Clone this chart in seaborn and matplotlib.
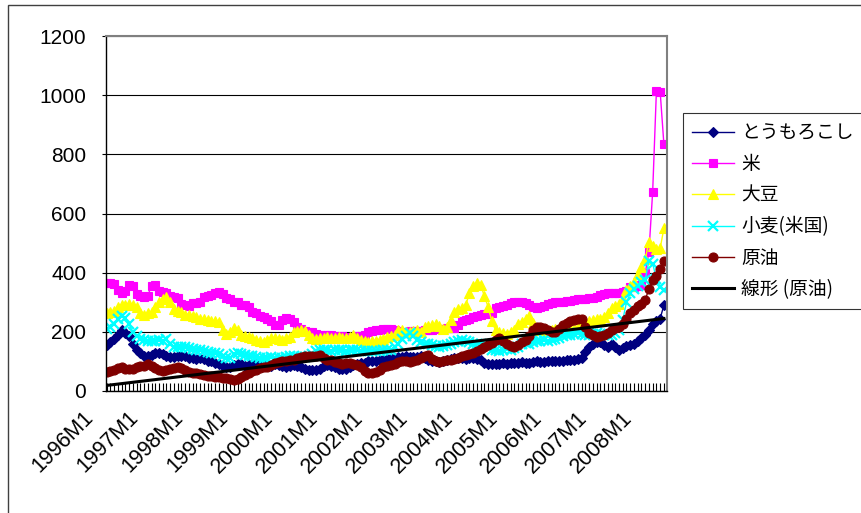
import numpy as np
import matplotlib
matplotlib.use("Agg")
import matplotlib.pyplot as plt
import matplotlib.transforms as mtransforms
from matplotlib.patches import Rectangle
from matplotlib.ticker import MultipleLocator
import seaborn as sns

# 月次カテゴリ（1996M1〜2008M6）
months = [f"{y}M{m}" for y in range(1996, 2009) for m in range(1, 13)][:150]
tick_labels = months[::12]

# 各系列
corn = [
    155, 165, 175, 190, 205, 195, 185, 160, 140, 128, 120, 118,   # 1996
    122, 128, 130, 125, 118, 115, 114, 118, 120, 118, 112, 110,   # 1997
    108, 110, 108, 102, 100, 96, 92, 85, 82, 80, 88, 92,          # 1998
    90, 86, 88, 90, 94, 92, 88, 84, 86, 90, 88, 84,               # 1999
    82, 86, 88, 86, 80, 74, 70, 72, 70, 74, 84, 88,               # 2000
    86, 80, 76, 74, 76, 80, 88, 92, 94, 96, 100, 102,             # 2001
    100, 104, 106, 108, 110, 112, 114, 116, 118, 116, 114, 116,   # 2002
    118, 112, 106, 102, 100, 98, 100, 104, 108, 110, 112, 110,    # 2003
    108, 110, 112, 108, 104, 96, 92, 90, 90, 92, 94, 92,          # 2004
    94, 96, 96, 98, 96, 96, 98, 100, 98, 98, 100, 100,            # 2005
    102, 100, 102, 104, 104, 106, 108, 112, 132, 150, 158, 164,   # 2006
    165, 155, 150, 160, 148, 140, 145, 152, 156, 160, 170, 178,   # 2007
    190, 205, 225, 238, 245, 290,                                 # 2008
]
rice = [
    365, 365, 362, 340, 332, 338, 358, 355, 328, 320, 318, 322,
    355, 358, 338, 334, 330, 320, 318, 316, 295, 290, 288, 296,
    298, 300, 318, 320, 326, 332, 334, 328, 314, 312, 302, 300,
    292, 290, 285, 268, 262, 252, 250, 245, 236, 224, 222, 240,
    246, 244, 232, 215, 208, 204, 200, 198, 192, 190, 188, 190,
    188, 186, 184, 185, 184, 182, 184, 186, 185, 190, 200, 204,
    205, 206, 208, 210, 208, 206, 202, 200, 200, 202, 203, 204,
    204, 206, 205, 206, 208, 210, 210, 212, 214, 212, 222, 235,
    240, 245, 250, 255, 258, 260, 260, 265, 280, 285, 288, 290,
    298, 300, 302, 300, 298, 290, 284, 282, 284, 288, 295, 298,
    300, 300, 302, 304, 305, 308, 310, 312, 312, 314, 315, 318,
    325, 328, 330, 330, 332, 332, 334, 338, 350, 352, 355, 360,
    398, 470, 674, 1015, 1012, 834,
]
soybean = [
    265, 268, 270, 285, 290, 292, 295, 290, 285, 262, 258, 262,
    268, 285, 300, 312, 318, 300, 278, 272, 268, 258, 256, 255,
    250, 245, 244, 240, 238, 236, 234, 205, 192, 200, 212, 205,
    190, 185, 182, 178, 172, 168, 166, 172, 178, 180, 176, 172,
    178, 182, 198, 202, 206, 204, 188, 178, 176, 178, 180, 182,
    178, 180, 182, 178, 180, 184, 190, 180, 172, 168, 166, 168,
    170, 172, 175, 184, 186, 190, 205, 206, 200, 198, 202, 206,
    200, 215, 220, 224, 228, 220, 210, 215, 240, 268, 276, 282,
    290, 330, 355, 365, 360, 320, 285, 235, 205, 198, 196, 194,
    198, 205, 228, 232, 245, 252, 230, 210, 206, 205, 204, 205,
    208, 210, 212, 214, 212, 210, 215, 222, 230, 236, 240, 242,
    245, 250, 262, 280, 288, 295, 310, 340, 355, 370, 395, 420,
    445, 505, 490, 480, 482, 550,
]
wheat = [
    210, 215, 225, 245, 255, 248, 225, 200, 185, 175, 172, 170,
    168, 170, 172, 170, 175, 160, 150, 148, 150, 148, 145, 142,
    140, 138, 136, 132, 130, 128, 125, 118, 112, 110, 125, 128,
    125, 122, 120, 118, 114, 112, 110, 112, 115, 112, 110, 112,
    115, 118, 118, 116, 114, 115, 118, 125, 135, 138, 140, 138,
    136, 138, 140, 138, 136, 138, 140, 138, 136, 135, 134, 136,
    135, 136, 137, 138, 140, 150, 160, 175, 185, 195, 185, 172,
    165, 160, 158, 155, 152, 150, 152, 155, 160, 165, 170, 172,
    168, 165, 160, 158, 160, 155, 145, 140, 138, 136, 140, 142,
    140, 145, 150, 158, 162, 160, 165, 168, 170, 172, 168, 172,
    175, 180, 185, 188, 190, 192, 195, 192, 188, 190, 192, 195,
    192, 190, 188, 190, 195, 205, 240, 300, 330, 345, 355, 370,
    375, 440, 430, 380, 350, 340,
]
crude_oil = [
    65, 68, 72, 78, 80, 76, 74, 76, 80, 84, 86, 90,
    84, 78, 70, 68, 72, 76, 78, 80, 78, 70, 64, 62,
    60, 58, 55, 52, 50, 48, 46, 45, 44, 40, 38, 42,
    48, 55, 60, 66, 72, 78, 80, 82, 88, 94, 98, 102,
    100, 104, 106, 110, 115, 118, 120, 118, 120, 122, 112, 105,
    104, 98, 95, 92, 94, 96, 92, 88, 80, 66, 62, 60,
    64, 70, 80, 86, 88, 90, 98, 100, 102, 98, 100, 104,
    110, 120, 122, 108, 100, 98, 100, 104, 106, 108, 112, 118,
    122, 126, 130, 135, 142, 148, 155, 162, 172, 178, 170, 160,
    152, 150, 155, 165, 172, 185, 205, 215, 218, 214, 205, 198,
    200, 210, 222, 230, 236, 240, 245, 242, 215, 195, 188, 184,
    186, 190, 196, 205, 212, 218, 225, 245, 262, 275, 288, 295,
    308, 345, 375, 390, 414, 440,
]

series_names = ["とうもろこし", "米", "大豆", "小麦(米国)", "原油"]
series_values = [corn, rice, soybean, wheat, crude_oil]
colors = ["#000080", "#FF00FF", "#FFFF00", "#00FFFF", "#800000"]
markers = ["D", "s", "^", "x", "o"]
marker_sizes = [5.5, 6, 7, 6.5, 6.5]

plt.rcParams["font.family"] = ["Liberation Sans", "Noto Sans CJK JP", "DejaVu Sans"]

fig = plt.figure(figsize=(8.61, 5.13), dpi=100)
ax = fig.add_axes([105.7 / 861, 1 - 391 / 513, 561 / 861, 355 / 513])

x = np.arange(len(months))

# 各系列を描画
for name, vals, color, mk, ms in zip(series_names, series_values, colors, markers, marker_sizes):
    sns.lineplot(x=x, y=vals, ax=ax, color=color, marker=mk, markersize=ms,
                 markeredgecolor=color, markeredgewidth=1.6 if mk == "x" else 0.8,
                 linewidth=1, label=name)

# 原油の線形近似
coef = np.polyfit(x, crude_oil, 1)
sns.lineplot(x=x, y=np.polyval(coef, x), ax=ax, color="black", linewidth=2.2, label="線形 (原油)")

# 軸
ax.set_xlim(-0.25, 149.75)
ax.set_ylim(0, 1200)
ax.set_yticks(range(0, 1201, 200))
ax.set_xticks(x[::12])
ax.set_xticklabels(tick_labels)
ax.xaxis.set_minor_locator(MultipleLocator(1))
ax.tick_params(axis="x", which="both", direction="in", length=6, width=0.8, pad=17, labelsize=15.5)
ax.tick_params(axis="y", direction="out", length=3, pad=11, labelsize=15)
ax.set_xlabel("")
ax.set_ylabel("")

offset = mtransforms.ScaledTranslation(-0.16, 0, fig.dpi_scale_trans)
for lab in ax.get_xticklabels():
    lab.set_rotation(45)
    lab.set_ha("right")
    lab.set_va("center")
    lab.set_rotation_mode("anchor")
    lab.set_transform(lab.get_transform() + offset)

ax.yaxis.grid(True, color="black", linewidth=0.8)
ax.set_axisbelow(True)
for side in ["top", "right"]:
    ax.spines[side].set_color("#808080")
    ax.spines[side].set_linewidth(1.5)
for side in ["left", "bottom"]:
    ax.spines[side].set_color("black")
    ax.spines[side].set_linewidth(1)

# 凡例（グラフ外右側）
leg = ax.legend(loc="upper left", bbox_to_anchor=(683 / 861, 1 - 113 / 513),
                bbox_transform=fig.transFigure, prop={"family": ["Noto Sans CJK JP"], "size": 13.5},
                frameon=True, fancybox=False, edgecolor="black", borderaxespad=0,
                handlelength=2.2, handletextpad=0.4, labelspacing=0.55, borderpad=0.5)
leg.get_frame().set_linewidth(0.8)

# グラフエリアの枠
fig.add_artist(Rectangle((8 / 861, -0.05), 1.1, 1.05 - 5 / 513, transform=fig.transFigure,
                         fill=False, edgecolor="#404040", linewidth=1))

fig.savefig("out.png", dpi=100)
plt.close()
